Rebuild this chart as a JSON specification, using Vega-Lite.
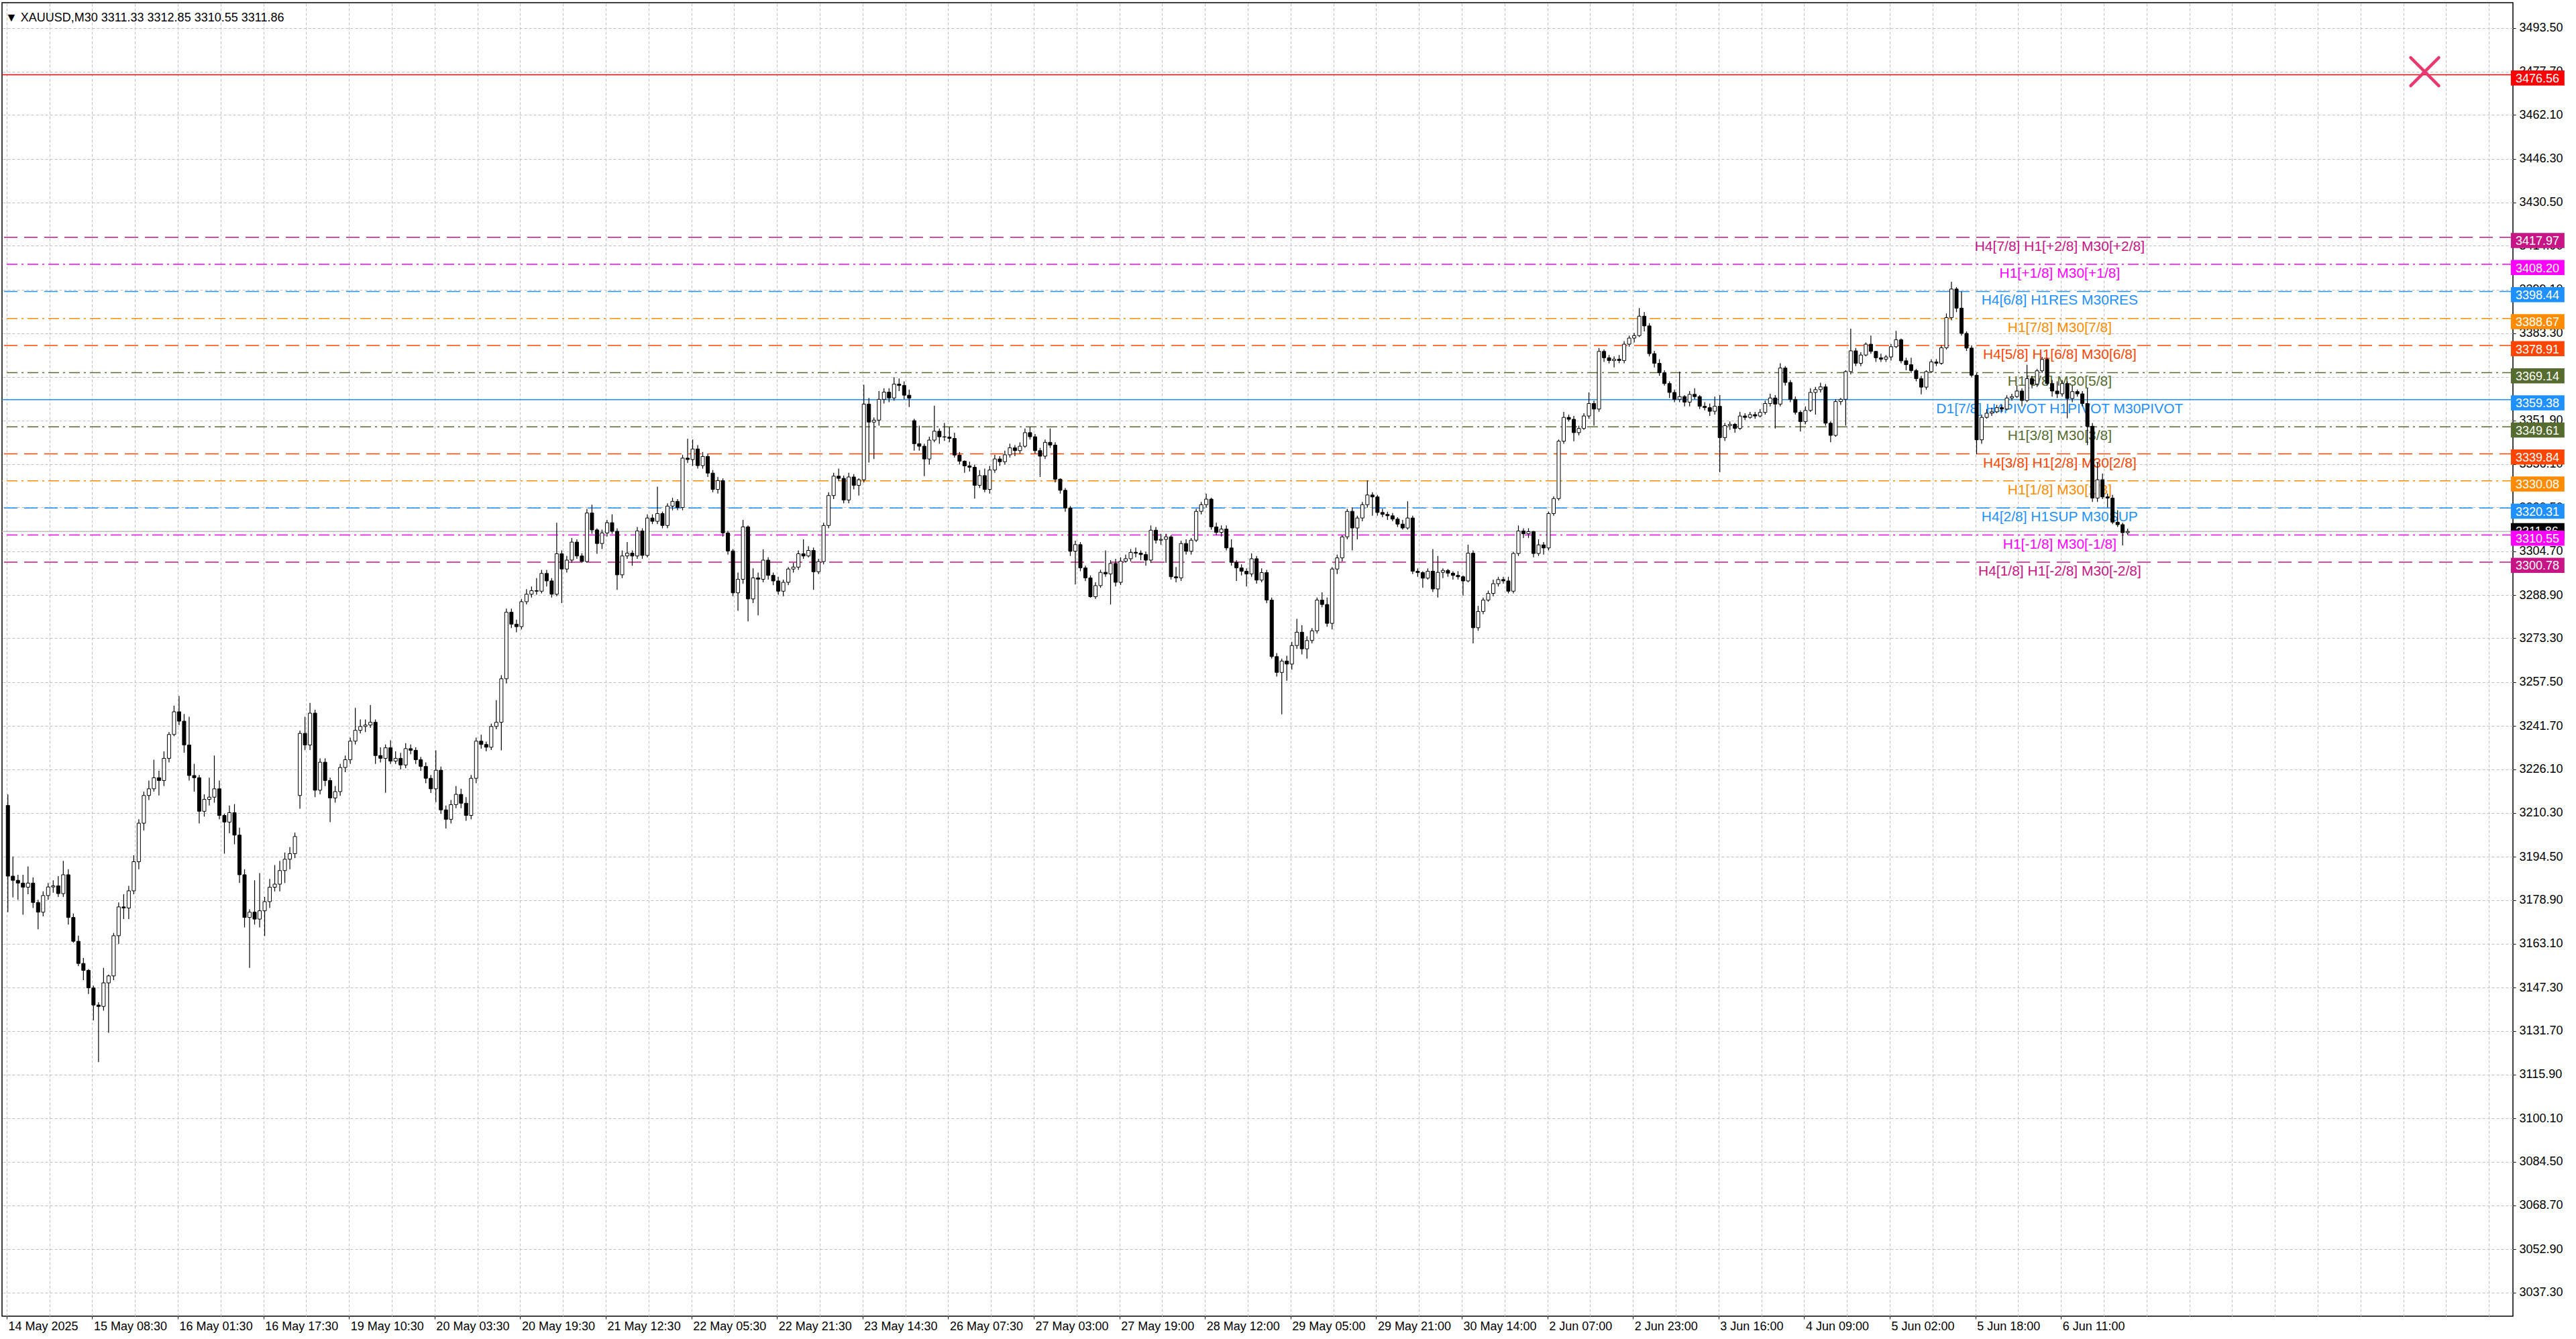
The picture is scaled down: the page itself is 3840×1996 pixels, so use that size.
{
  "$schema": "https://vega.github.io/schema/vega-lite/v6.json",
  "width": 3743,
  "height": 1958,
  "autosize": {"type": "none"},
  "padding": {"left": 3, "top": 4, "right": 94, "bottom": 34},
  "background": "#ffffff",
  "title": {
    "text": "▼ XAUUSD,M30  3311.33 3312.85 3310.55 3311.86",
    "orient": "top",
    "anchor": "start",
    "frame": "group",
    "offset": -26,
    "dx": 5,
    "dy": 20,
    "baseline": "alphabetic",
    "font": "Liberation Sans",
    "fontSize": 18,
    "fontWeight": "normal",
    "color": "#000000"
  },
  "datasets": {
    "levels": [
      {"price": 3476.56, "name": "alert"},
      {"price": 3417.97, "name": "H4[7/8] H1[+2/8] M30[+2/8]"},
      {"price": 3408.20, "name": "H1[+1/8] M30[+1/8]"},
      {"price": 3398.44, "name": "H4[6/8] H1RES M30RES"},
      {"price": 3388.67, "name": "H1[7/8] M30[7/8]"},
      {"price": 3378.91, "name": "H4[5/8] H1[6/8] M30[6/8]"},
      {"price": 3369.14, "name": "H1[5/8] M30[5/8]"},
      {"price": 3359.38, "name": "D1[7/8] H4PIVOT H1PIVOT M30PIVOT"},
      {"price": 3349.61, "name": "H1[3/8] M30[3/8]"},
      {"price": 3339.84, "name": "H4[3/8] H1[2/8] M30[2/8]"},
      {"price": 3330.08, "name": "H1[1/8] M30[1/8]"},
      {"price": 3320.31, "name": "H4[2/8] H1SUP M30SUP"},
      {"price": 3311.86, "name": "bid"},
      {"price": 3310.55, "name": "H1[-1/8] M30[-1/8]"},
      {"price": 3300.78, "name": "H4[1/8] H1[-2/8] M30[-2/8]"}
    ],
    "objects": [
      {"name": "close", "t": 480, "price": 3477.7}
    ],
    "candles": [
      {"t":0,"o":3213,"h":3217,"l":3174.5,"c":3187.5},
      {"t":1,"o":3187.5,"h":3194.6,"l":3179.8,"c":3186},
      {"t":2,"o":3186,"h":3188,"l":3179,"c":3185},
      {"t":3,"o":3185,"h":3188,"l":3173.6,"c":3183.5},
      {"t":4,"o":3183.5,"h":3191,"l":3181,"c":3185},
      {"t":5,"o":3185,"h":3187,"l":3176,"c":3178},
      {"t":6,"o":3178,"h":3179,"l":3168.3,"c":3174.5},
      {"t":7,"o":3174.5,"h":3182,"l":3173,"c":3180.5},
      {"t":8,"o":3180.5,"h":3185,"l":3179,"c":3183.6},
      {"t":9,"o":3183.6,"h":3186,"l":3181.5,"c":3184},
      {"t":10,"o":3184,"h":3187.5,"l":3180,"c":3181.2},
      {"t":11,"o":3181.2,"h":3193,"l":3180,"c":3188},
      {"t":12,"o":3188,"h":3190,"l":3170,"c":3172.6},
      {"t":13,"o":3172.6,"h":3174,"l":3163.5,"c":3164},
      {"t":14,"o":3164,"h":3166,"l":3155,"c":3156},
      {"t":15,"o":3156,"h":3158,"l":3150,"c":3153.5},
      {"t":16,"o":3153.5,"h":3154,"l":3145,"c":3147.2},
      {"t":17,"o":3147.2,"h":3148,"l":3135.5,"c":3141},
      {"t":18,"o":3141,"h":3142,"l":3120.4,"c":3140.5},
      {"t":19,"o":3140.5,"h":3154.4,"l":3139,"c":3149},
      {"t":20,"o":3149,"h":3152,"l":3131,"c":3151.5},
      {"t":21,"o":3151.5,"h":3167,"l":3150,"c":3166},
      {"t":22,"o":3166,"h":3178,"l":3163,"c":3176.4},
      {"t":23,"o":3176.4,"h":3181,"l":3172,"c":3176},
      {"t":24,"o":3176,"h":3184,"l":3172,"c":3182.2},
      {"t":25,"o":3182.2,"h":3195,"l":3181,"c":3192.7},
      {"t":26,"o":3192.7,"h":3208,"l":3190,"c":3206.6},
      {"t":27,"o":3206.6,"h":3218,"l":3204,"c":3216.6},
      {"t":28,"o":3216.6,"h":3222,"l":3215,"c":3219},
      {"t":29,"o":3219,"h":3229.5,"l":3218,"c":3223},
      {"t":30,"o":3223,"h":3225.5,"l":3216.6,"c":3222},
      {"t":31,"o":3222,"h":3232.5,"l":3220,"c":3230},
      {"t":32,"o":3230,"h":3239.5,"l":3228.5,"c":3238.6},
      {"t":33,"o":3238.6,"h":3249,"l":3238,"c":3246.8},
      {"t":34,"o":3246.8,"h":3252.5,"l":3242,"c":3243.4},
      {"t":35,"o":3243.4,"h":3246,"l":3232,"c":3234.8},
      {"t":36,"o":3234.8,"h":3245,"l":3222,"c":3223.8},
      {"t":37,"o":3223.8,"h":3228,"l":3218,"c":3223},
      {"t":38,"o":3223,"h":3224,"l":3206.5,"c":3210.9},
      {"t":39,"o":3210.9,"h":3217,"l":3209,"c":3215.2},
      {"t":40,"o":3215.2,"h":3223,"l":3213,"c":3216},
      {"t":41,"o":3216,"h":3231,"l":3214,"c":3219},
      {"t":42,"o":3219,"h":3222,"l":3208,"c":3209.4},
      {"t":43,"o":3209.4,"h":3210,"l":3195.6,"c":3207},
      {"t":44,"o":3207,"h":3213,"l":3203,"c":3210.4},
      {"t":45,"o":3210.4,"h":3213.5,"l":3199,"c":3202.3},
      {"t":46,"o":3202.3,"h":3205,"l":3185,"c":3188},
      {"t":47,"o":3188,"h":3190,"l":3169,"c":3172.6},
      {"t":48,"o":3172.6,"h":3175.5,"l":3154.4,"c":3174.5},
      {"t":49,"o":3174.5,"h":3186,"l":3170,"c":3172},
      {"t":50,"o":3172,"h":3188.6,"l":3169,"c":3175},
      {"t":51,"o":3175,"h":3180,"l":3165.9,"c":3178.3},
      {"t":52,"o":3178.3,"h":3186.5,"l":3176,"c":3183.5},
      {"t":53,"o":3183.5,"h":3191.5,"l":3182,"c":3184.6},
      {"t":54,"o":3184.6,"h":3193,"l":3182,"c":3189.5},
      {"t":55,"o":3189.5,"h":3196,"l":3185,"c":3193.6},
      {"t":56,"o":3193.6,"h":3198,"l":3190,"c":3195.6},
      {"t":57,"o":3195.6,"h":3203.2,"l":3194,"c":3201.8},
      {"t":58,"o":3216.6,"h":3240,"l":3211.8,"c":3239},
      {"t":59,"o":3239,"h":3245,"l":3233,"c":3234.8},
      {"t":60,"o":3234.8,"h":3250,"l":3233,"c":3246.3},
      {"t":61,"o":3246.3,"h":3247.5,"l":3216,"c":3218.5},
      {"t":62,"o":3218.5,"h":3230,"l":3217,"c":3228.6},
      {"t":63,"o":3228.6,"h":3230,"l":3220,"c":3222},
      {"t":64,"o":3222,"h":3223,"l":3207,"c":3215.7},
      {"t":65,"o":3215.7,"h":3220,"l":3214,"c":3218},
      {"t":66,"o":3218,"h":3228,"l":3216.5,"c":3226.7},
      {"t":67,"o":3226.7,"h":3231,"l":3225,"c":3229.5},
      {"t":68,"o":3229.5,"h":3237.5,"l":3228,"c":3236.2},
      {"t":69,"o":3236.2,"h":3248.2,"l":3235,"c":3240.1},
      {"t":70,"o":3240.1,"h":3244,"l":3239,"c":3241.5},
      {"t":71,"o":3241.5,"h":3244,"l":3239.5,"c":3242},
      {"t":72,"o":3242,"h":3249.2,"l":3241,"c":3243},
      {"t":73,"o":3243,"h":3244,"l":3228,"c":3231},
      {"t":74,"o":3231,"h":3234,"l":3228.5,"c":3230},
      {"t":75,"o":3230,"h":3235,"l":3217.6,"c":3233.8},
      {"t":76,"o":3233.8,"h":3236.5,"l":3228,"c":3229},
      {"t":77,"o":3229,"h":3232.5,"l":3228,"c":3230},
      {"t":78,"o":3230,"h":3232,"l":3226,"c":3227.6},
      {"t":79,"o":3227.6,"h":3235.5,"l":3226.5,"c":3233.5},
      {"t":80,"o":3233.5,"h":3235,"l":3231.5,"c":3232.9},
      {"t":81,"o":3232.9,"h":3234,"l":3228,"c":3229.5},
      {"t":82,"o":3229.5,"h":3230.5,"l":3225.5,"c":3227.1},
      {"t":83,"o":3227.1,"h":3228.5,"l":3221,"c":3222.8},
      {"t":84,"o":3222.8,"h":3224,"l":3217.5,"c":3219},
      {"t":85,"o":3219,"h":3232.9,"l":3214.2,"c":3225.7},
      {"t":86,"o":3225.7,"h":3227,"l":3210,"c":3211.4},
      {"t":87,"o":3211.4,"h":3213,"l":3204.7,"c":3208},
      {"t":88,"o":3208,"h":3215,"l":3206.5,"c":3213.3},
      {"t":89,"o":3213.3,"h":3220,"l":3212,"c":3217},
      {"t":90,"o":3217,"h":3219,"l":3212,"c":3213.8},
      {"t":91,"o":3213.8,"h":3216,"l":3207.5,"c":3209.4},
      {"t":92,"o":3209.4,"h":3224,"l":3208,"c":3222.8},
      {"t":93,"o":3222.8,"h":3237.5,"l":3221,"c":3236.2},
      {"t":94,"o":3236.2,"h":3238.5,"l":3233.5,"c":3235},
      {"t":95,"o":3235,"h":3236,"l":3232.5,"c":3234},
      {"t":96,"o":3234,"h":3242.5,"l":3233,"c":3241.5},
      {"t":97,"o":3241.5,"h":3251,"l":3240.5,"c":3243},
      {"t":98,"o":3243,"h":3260,"l":3232.9,"c":3258.7},
      {"t":99,"o":3258.7,"h":3284,"l":3257,"c":3282.7},
      {"t":100,"o":3282.7,"h":3284,"l":3277,"c":3278.4},
      {"t":101,"o":3278.4,"h":3280,"l":3275.5,"c":3277.5},
      {"t":102,"o":3277.5,"h":3287.5,"l":3276.5,"c":3286.5},
      {"t":103,"o":3286.5,"h":3291,"l":3285.5,"c":3289.2},
      {"t":104,"o":3289.2,"h":3292,"l":3288,"c":3290.5},
      {"t":105,"o":3290.5,"h":3295,"l":3289,"c":3290.3},
      {"t":106,"o":3290.3,"h":3298,"l":3289.5,"c":3296.7},
      {"t":107,"o":3296.7,"h":3298,"l":3292,"c":3294},
      {"t":108,"o":3294,"h":3295,"l":3288,"c":3289.2},
      {"t":109,"o":3289.2,"h":3315,"l":3288.5,"c":3303.8},
      {"t":110,"o":3303.8,"h":3305,"l":3286,"c":3298.3},
      {"t":111,"o":3298.3,"h":3303,"l":3297,"c":3301.5},
      {"t":112,"o":3301.5,"h":3309.5,"l":3300.5,"c":3308},
      {"t":113,"o":3308,"h":3309,"l":3302,"c":3303},
      {"t":114,"o":3303,"h":3304,"l":3300.5,"c":3301},
      {"t":115,"o":3301,"h":3320,"l":3300.5,"c":3318.5},
      {"t":116,"o":3318.5,"h":3321.5,"l":3311,"c":3312.4},
      {"t":117,"o":3312.4,"h":3313,"l":3303.8,"c":3307.5},
      {"t":118,"o":3307.5,"h":3312.5,"l":3305.5,"c":3311.3},
      {"t":119,"o":3311.3,"h":3316,"l":3310,"c":3315},
      {"t":120,"o":3315,"h":3318,"l":3311,"c":3311.9},
      {"t":121,"o":3311.9,"h":3313,"l":3290.8,"c":3296.2},
      {"t":122,"o":3296.2,"h":3305,"l":3295,"c":3303},
      {"t":123,"o":3303,"h":3308,"l":3302,"c":3304},
      {"t":124,"o":3304,"h":3305,"l":3299.5,"c":3303},
      {"t":125,"o":3303,"h":3313.5,"l":3302,"c":3312},
      {"t":126,"o":3312,"h":3313,"l":3302,"c":3303.2},
      {"t":127,"o":3303.2,"h":3318,"l":3302.5,"c":3316.7},
      {"t":128,"o":3316.7,"h":3318,"l":3314.5,"c":3315.5},
      {"t":129,"o":3315.5,"h":3328,"l":3314.5,"c":3318.3},
      {"t":130,"o":3318.3,"h":3319,"l":3313,"c":3314},
      {"t":131,"o":3314,"h":3322,"l":3313,"c":3321},
      {"t":132,"o":3321,"h":3324,"l":3319.5,"c":3322.7},
      {"t":133,"o":3322.7,"h":3323.5,"l":3319.5,"c":3320.5},
      {"t":134,"o":3320.5,"h":3339.5,"l":3319.5,"c":3338.3},
      {"t":135,"o":3338.3,"h":3345.3,"l":3336.5,"c":3337.8},
      {"t":136,"o":3337.8,"h":3345,"l":3335.5,"c":3341.6},
      {"t":137,"o":3341.6,"h":3343,"l":3334.5,"c":3335.6},
      {"t":138,"o":3335.6,"h":3340.5,"l":3334.5,"c":3338.9},
      {"t":139,"o":3338.9,"h":3340,"l":3331.5,"c":3332.9},
      {"t":140,"o":3332.9,"h":3334,"l":3326,"c":3327},
      {"t":141,"o":3327,"h":3331.5,"l":3325.5,"c":3330.2},
      {"t":142,"o":3330.2,"h":3331,"l":3310,"c":3311.3},
      {"t":143,"o":3311.3,"h":3312,"l":3303.5,"c":3304.8},
      {"t":144,"o":3304.8,"h":3305.5,"l":3288.5,"c":3289.7},
      {"t":145,"o":3289.7,"h":3297,"l":3283.2,"c":3294.6},
      {"t":146,"o":3294.6,"h":3316,"l":3293,"c":3313.5},
      {"t":147,"o":3313.5,"h":3314,"l":3279.4,"c":3287.5},
      {"t":148,"o":3287.5,"h":3298.5,"l":3286,"c":3295.1},
      {"t":149,"o":3295.1,"h":3297,"l":3281.6,"c":3294.6},
      {"t":150,"o":3294.6,"h":3305.4,"l":3293.5,"c":3301.5},
      {"t":151,"o":3301.5,"h":3302.5,"l":3294.5,"c":3296},
      {"t":152,"o":3296,"h":3297,"l":3292.5,"c":3294},
      {"t":153,"o":3294,"h":3295.5,"l":3289,"c":3290.3},
      {"t":154,"o":3290.3,"h":3294.5,"l":3288.5,"c":3293.5},
      {"t":155,"o":3293.5,"h":3299,"l":3292.5,"c":3298.3},
      {"t":156,"o":3298.3,"h":3300.5,"l":3297,"c":3299},
      {"t":157,"o":3299,"h":3305,"l":3298,"c":3303.8},
      {"t":158,"o":3303.8,"h":3309,"l":3302,"c":3303},
      {"t":159,"o":3303,"h":3306.5,"l":3302.5,"c":3305},
      {"t":160,"o":3305,"h":3306,"l":3290.8,"c":3297.3},
      {"t":161,"o":3297.3,"h":3302,"l":3296.5,"c":3301},
      {"t":162,"o":3301,"h":3315,"l":3300,"c":3314},
      {"t":163,"o":3314,"h":3326,"l":3313,"c":3324.8},
      {"t":164,"o":3324.8,"h":3333,"l":3323.5,"c":3331.8},
      {"t":165,"o":3331.8,"h":3334.5,"l":3330,"c":3331},
      {"t":166,"o":3331,"h":3332,"l":3322,"c":3323.2},
      {"t":167,"o":3323.2,"h":3333,"l":3322,"c":3331.5},
      {"t":168,"o":3331.5,"h":3332.5,"l":3327,"c":3328.5},
      {"t":169,"o":3328.5,"h":3331,"l":3324.8,"c":3330.5},
      {"t":170,"o":3330.5,"h":3364.8,"l":3329.5,"c":3357.8},
      {"t":171,"o":3357.8,"h":3360,"l":3336.7,"c":3351.3},
      {"t":172,"o":3351.3,"h":3353,"l":3338,"c":3352},
      {"t":173,"o":3352,"h":3362.5,"l":3350,"c":3359.5},
      {"t":174,"o":3359.5,"h":3363.5,"l":3358,"c":3362.1},
      {"t":175,"o":3362.1,"h":3363.5,"l":3358.5,"c":3360},
      {"t":176,"o":3360,"h":3367.5,"l":3359,"c":3365},
      {"t":177,"o":3365,"h":3367,"l":3362.5,"c":3364.5},
      {"t":178,"o":3364.5,"h":3366,"l":3359.5,"c":3361},
      {"t":179,"o":3361,"h":3363,"l":3356.7,"c":3359.9},
      {"t":180,"o":3351.8,"h":3352.5,"l":3341,"c":3343.5},
      {"t":181,"o":3343.5,"h":3350,"l":3341,"c":3342.6},
      {"t":182,"o":3342.6,"h":3343.5,"l":3331.8,"c":3338},
      {"t":183,"o":3338,"h":3346,"l":3336,"c":3344.8},
      {"t":184,"o":3344.8,"h":3357.2,"l":3344,"c":3348},
      {"t":185,"o":3348,"h":3349,"l":3343.5,"c":3346},
      {"t":186,"o":3346,"h":3351,"l":3344.5,"c":3345.9},
      {"t":187,"o":3345.9,"h":3349.5,"l":3344,"c":3345.4},
      {"t":188,"o":3345.4,"h":3347.5,"l":3338.5,"c":3339.4},
      {"t":189,"o":3339.4,"h":3340.5,"l":3336,"c":3337.2},
      {"t":190,"o":3337.2,"h":3337.5,"l":3333,"c":3335.5},
      {"t":191,"o":3335.5,"h":3337,"l":3333.5,"c":3335},
      {"t":192,"o":3335,"h":3336,"l":3323.7,"c":3328.5},
      {"t":193,"o":3328.5,"h":3334,"l":3327.5,"c":3332},
      {"t":194,"o":3332,"h":3334.5,"l":3326,"c":3327},
      {"t":195,"o":3327,"h":3335.5,"l":3325.5,"c":3334},
      {"t":196,"o":3334,"h":3339.5,"l":3333,"c":3338},
      {"t":197,"o":3338,"h":3339,"l":3335.5,"c":3337},
      {"t":198,"o":3337,"h":3341,"l":3336,"c":3339.5},
      {"t":199,"o":3339.5,"h":3343.5,"l":3338.5,"c":3342},
      {"t":200,"o":3342,"h":3343,"l":3339,"c":3341},
      {"t":201,"o":3341,"h":3344,"l":3340,"c":3342.6},
      {"t":202,"o":3342.6,"h":3349,"l":3342,"c":3347.5},
      {"t":203,"o":3347.5,"h":3349.5,"l":3345,"c":3346},
      {"t":204,"o":3346,"h":3347,"l":3340,"c":3341},
      {"t":205,"o":3341,"h":3342,"l":3331.5,"c":3339},
      {"t":206,"o":3339,"h":3345,"l":3338,"c":3344},
      {"t":207,"o":3344,"h":3349,"l":3342,"c":3343},
      {"t":208,"o":3343,"h":3344,"l":3329.5,"c":3330.7},
      {"t":209,"o":3330.7,"h":3331,"l":3325.5,"c":3326.7},
      {"t":210,"o":3326.7,"h":3327.5,"l":3319,"c":3320.3},
      {"t":211,"o":3320.3,"h":3321,"l":3303,"c":3304.7},
      {"t":212,"o":3304.7,"h":3308.5,"l":3292.7,"c":3307.1},
      {"t":213,"o":3307.1,"h":3308,"l":3297.5,"c":3298.7},
      {"t":214,"o":3298.7,"h":3299.5,"l":3294,"c":3295.1},
      {"t":215,"o":3295.1,"h":3296,"l":3287.9,"c":3288.3},
      {"t":216,"o":3288.3,"h":3293.5,"l":3287.5,"c":3292.3},
      {"t":217,"o":3292.3,"h":3298,"l":3291.5,"c":3297.1},
      {"t":218,"o":3297.1,"h":3305,"l":3295.5,"c":3296.5},
      {"t":219,"o":3296.5,"h":3301.5,"l":3285.5,"c":3300.3},
      {"t":220,"o":3300.3,"h":3302,"l":3292,"c":3293.5},
      {"t":221,"o":3293.5,"h":3302.5,"l":3292.5,"c":3301.1},
      {"t":222,"o":3301.1,"h":3303.5,"l":3300.5,"c":3302},
      {"t":223,"o":3302,"h":3305.5,"l":3301,"c":3304.3},
      {"t":224,"o":3304.3,"h":3306,"l":3302.5,"c":3304},
      {"t":225,"o":3304,"h":3305,"l":3301.5,"c":3303.5},
      {"t":226,"o":3303.5,"h":3304.5,"l":3299.5,"c":3301.5},
      {"t":227,"o":3301.5,"h":3314,"l":3300.5,"c":3312.3},
      {"t":228,"o":3312.3,"h":3313.5,"l":3307.5,"c":3308.7},
      {"t":229,"o":3308.7,"h":3311,"l":3307,"c":3309},
      {"t":230,"o":3309,"h":3311,"l":3300.5,"c":3309.9},
      {"t":231,"o":3309.9,"h":3310.5,"l":3294.5,"c":3295.5},
      {"t":232,"o":3295.5,"h":3299,"l":3293.5,"c":3295.1},
      {"t":233,"o":3295.1,"h":3308.5,"l":3294,"c":3307.5},
      {"t":234,"o":3307.5,"h":3309,"l":3303.5,"c":3304.7},
      {"t":235,"o":3304.7,"h":3309.5,"l":3303.5,"c":3308.7},
      {"t":236,"o":3308.7,"h":3320,"l":3308,"c":3319.1},
      {"t":237,"o":3319.1,"h":3322.5,"l":3318,"c":3321.5},
      {"t":238,"o":3321.5,"h":3325.5,"l":3320.5,"c":3323.5},
      {"t":239,"o":3323.5,"h":3324,"l":3312.5,"c":3313.5},
      {"t":240,"o":3313.5,"h":3315,"l":3310.5,"c":3311.5},
      {"t":241,"o":3311.5,"h":3314,"l":3310,"c":3312.7},
      {"t":242,"o":3312.7,"h":3314,"l":3305,"c":3305.9},
      {"t":243,"o":3305.9,"h":3309,"l":3299.5,"c":3300.7},
      {"t":244,"o":3300.7,"h":3301.5,"l":3294,"c":3298.7},
      {"t":245,"o":3298.7,"h":3300,"l":3296,"c":3297.5},
      {"t":246,"o":3297.5,"h":3298.5,"l":3292,"c":3296.5},
      {"t":247,"o":3296.5,"h":3304,"l":3295.5,"c":3302},
      {"t":248,"o":3302,"h":3303,"l":3293,"c":3294.3},
      {"t":249,"o":3294.3,"h":3298.5,"l":3293.5,"c":3297},
      {"t":250,"o":3297,"h":3298,"l":3286,"c":3287.1},
      {"t":251,"o":3287.1,"h":3288,"l":3266,"c":3266.7},
      {"t":252,"o":3266.7,"h":3268,"l":3259.5,"c":3261},
      {"t":253,"o":3261,"h":3266,"l":3245.9,"c":3265.1},
      {"t":254,"o":3265.1,"h":3267,"l":3258,"c":3264},
      {"t":255,"o":3264,"h":3272,"l":3262,"c":3270.7},
      {"t":256,"o":3270.7,"h":3280.3,"l":3269.5,"c":3275.5},
      {"t":257,"o":3275.5,"h":3278,"l":3267.5,"c":3269.5},
      {"t":258,"o":3269.5,"h":3274,"l":3266,"c":3272.5},
      {"t":259,"o":3272.5,"h":3277,"l":3271.5,"c":3276},
      {"t":260,"o":3276,"h":3288,"l":3275,"c":3287.1},
      {"t":261,"o":3287.1,"h":3289.9,"l":3284.5,"c":3285.5},
      {"t":262,"o":3285.5,"h":3288,"l":3277.5,"c":3278.7},
      {"t":263,"o":3278.7,"h":3299,"l":3276.5,"c":3298.3},
      {"t":264,"o":3298.3,"h":3303.5,"l":3296.5,"c":3302.3},
      {"t":265,"o":3302.3,"h":3310.5,"l":3301,"c":3309.9},
      {"t":266,"o":3309.9,"h":3320,"l":3309,"c":3319.1},
      {"t":267,"o":3319.1,"h":3320.5,"l":3305,"c":3313.1},
      {"t":268,"o":3313.1,"h":3317.5,"l":3309,"c":3316.7},
      {"t":269,"o":3316.7,"h":3322.5,"l":3315.5,"c":3321.5},
      {"t":270,"o":3321.5,"h":3330.3,"l":3320.5,"c":3325},
      {"t":271,"o":3325,"h":3326,"l":3317.5,"c":3324.3},
      {"t":272,"o":3324.3,"h":3325,"l":3317.5,"c":3318.7},
      {"t":273,"o":3318.7,"h":3320,"l":3317,"c":3318},
      {"t":274,"o":3318,"h":3319,"l":3316,"c":3317.5},
      {"t":275,"o":3317.5,"h":3318.5,"l":3315.5,"c":3316.3},
      {"t":276,"o":3316.3,"h":3317,"l":3313.5,"c":3314.5},
      {"t":277,"o":3314.5,"h":3316,"l":3312.5,"c":3313.1},
      {"t":278,"o":3313.1,"h":3322.7,"l":3312.5,"c":3316.7},
      {"t":279,"o":3316.7,"h":3317.5,"l":3296.5,"c":3297.5},
      {"t":280,"o":3297.5,"h":3298.5,"l":3295.5,"c":3297},
      {"t":281,"o":3297,"h":3297.5,"l":3291.5,"c":3295},
      {"t":282,"o":3295,"h":3298.5,"l":3294.5,"c":3297.5},
      {"t":283,"o":3297.5,"h":3305.5,"l":3290,"c":3291.1},
      {"t":284,"o":3291.1,"h":3303,"l":3288,"c":3297.1},
      {"t":285,"o":3297.1,"h":3298.5,"l":3295,"c":3297.8},
      {"t":286,"o":3297.8,"h":3298.3,"l":3295.5,"c":3296.8},
      {"t":287,"o":3296.8,"h":3297.5,"l":3294.5,"c":3296},
      {"t":288,"o":3296,"h":3297.5,"l":3294.5,"c":3295.5},
      {"t":289,"o":3295.5,"h":3296,"l":3288.7,"c":3294},
      {"t":290,"o":3294,"h":3307.1,"l":3293.5,"c":3304},
      {"t":291,"o":3304,"h":3305,"l":3271.5,"c":3277.1},
      {"t":292,"o":3277.1,"h":3285,"l":3276,"c":3283},
      {"t":293,"o":3283,"h":3288,"l":3282,"c":3287.1},
      {"t":294,"o":3287.1,"h":3290.5,"l":3286.5,"c":3289.5},
      {"t":295,"o":3289.5,"h":3294.5,"l":3288.5,"c":3293},
      {"t":296,"o":3293,"h":3295.5,"l":3292,"c":3294.5},
      {"t":297,"o":3294.5,"h":3295.5,"l":3293,"c":3294},
      {"t":298,"o":3294,"h":3295.5,"l":3289.5,"c":3290.3},
      {"t":299,"o":3290.3,"h":3304.5,"l":3289.5,"c":3303.9},
      {"t":300,"o":3303.9,"h":3314,"l":3303,"c":3312},
      {"t":301,"o":3312,"h":3313,"l":3309.5,"c":3311},
      {"t":302,"o":3311,"h":3313,"l":3309.5,"c":3311.8},
      {"t":303,"o":3311.8,"h":3312,"l":3302.5,"c":3303.9},
      {"t":304,"o":3303.9,"h":3309,"l":3303,"c":3307},
      {"t":305,"o":3307,"h":3308,"l":3303.5,"c":3305.9},
      {"t":306,"o":3305.9,"h":3319,"l":3305,"c":3318.3},
      {"t":307,"o":3318.3,"h":3324.5,"l":3317.5,"c":3323.7},
      {"t":308,"o":3323.7,"h":3345,"l":3323,"c":3344.4},
      {"t":309,"o":3344.4,"h":3355,"l":3343.5,"c":3353},
      {"t":310,"o":3353,"h":3354,"l":3351.5,"c":3352.3},
      {"t":311,"o":3352.3,"h":3353.5,"l":3344.4,"c":3347.5},
      {"t":312,"o":3347.5,"h":3350,"l":3346.5,"c":3349},
      {"t":313,"o":3349,"h":3354.5,"l":3348.5,"c":3353.5},
      {"t":314,"o":3353.5,"h":3362,"l":3352.5,"c":3358},
      {"t":315,"o":3358,"h":3359,"l":3350,"c":3356},
      {"t":316,"o":3356,"h":3378,"l":3355,"c":3376.8},
      {"t":317,"o":3376.8,"h":3377.5,"l":3373,"c":3374.5},
      {"t":318,"o":3374.5,"h":3375.5,"l":3372.5,"c":3373.5},
      {"t":319,"o":3373.5,"h":3375,"l":3371,"c":3374},
      {"t":320,"o":3374,"h":3375.5,"l":3372.5,"c":3373.5},
      {"t":321,"o":3373.5,"h":3380.5,"l":3372.5,"c":3379.4},
      {"t":322,"o":3379.4,"h":3382.5,"l":3378.5,"c":3381.6},
      {"t":323,"o":3381.6,"h":3383.5,"l":3380,"c":3382.5},
      {"t":324,"o":3382.5,"h":3392.4,"l":3382,"c":3389.5},
      {"t":325,"o":3389.5,"h":3391,"l":3384,"c":3386},
      {"t":326,"o":3386,"h":3387,"l":3375,"c":3376},
      {"t":327,"o":3376,"h":3377,"l":3371,"c":3372.5},
      {"t":328,"o":3372.5,"h":3374,"l":3368,"c":3369.1},
      {"t":329,"o":3369.1,"h":3370,"l":3364.5,"c":3365.2},
      {"t":330,"o":3365.2,"h":3366,"l":3360,"c":3362},
      {"t":331,"o":3362,"h":3363,"l":3358.5,"c":3359.5},
      {"t":332,"o":3359.5,"h":3369.5,"l":3358.5,"c":3360.5},
      {"t":333,"o":3360.5,"h":3361,"l":3357,"c":3358.5},
      {"t":334,"o":3358.5,"h":3362.5,"l":3357,"c":3361.3},
      {"t":335,"o":3361.3,"h":3363.5,"l":3359.5,"c":3360.5},
      {"t":336,"o":3360.5,"h":3361,"l":3356,"c":3357},
      {"t":337,"o":3357,"h":3358.5,"l":3355.5,"c":3356.5},
      {"t":338,"o":3356.5,"h":3358,"l":3353.5,"c":3355.2},
      {"t":339,"o":3355.2,"h":3360.5,"l":3354,"c":3357},
      {"t":340,"o":3357,"h":3361,"l":3333.2,"c":3345.7},
      {"t":341,"o":3345.7,"h":3351,"l":3344.5,"c":3350},
      {"t":342,"o":3350,"h":3351.5,"l":3348.5,"c":3350.5},
      {"t":343,"o":3350.5,"h":3351,"l":3347.5,"c":3349},
      {"t":344,"o":3349,"h":3355,"l":3348.5,"c":3353.5},
      {"t":345,"o":3353.5,"h":3354.5,"l":3352,"c":3353},
      {"t":346,"o":3353,"h":3355,"l":3352.5,"c":3354},
      {"t":347,"o":3354,"h":3355,"l":3352.5,"c":3353.5},
      {"t":348,"o":3353.5,"h":3356,"l":3353,"c":3354.8},
      {"t":349,"o":3354.8,"h":3359,"l":3354,"c":3358},
      {"t":350,"o":3358,"h":3361.5,"l":3357,"c":3360},
      {"t":351,"o":3360,"h":3361,"l":3349,"c":3357.8},
      {"t":352,"o":3357.8,"h":3372.5,"l":3357,"c":3370.8},
      {"t":353,"o":3370.8,"h":3371.5,"l":3364.5,"c":3365.6},
      {"t":354,"o":3365.6,"h":3366.5,"l":3358.5,"c":3359.5},
      {"t":355,"o":3359.5,"h":3360.5,"l":3354,"c":3354.8},
      {"t":356,"o":3354.8,"h":3355.5,"l":3347.9,"c":3351.5},
      {"t":357,"o":3351.5,"h":3357,"l":3350.5,"c":3355.5},
      {"t":358,"o":3355.5,"h":3363.5,"l":3355,"c":3362},
      {"t":359,"o":3362,"h":3364,"l":3354,"c":3363},
      {"t":360,"o":3363,"h":3365.5,"l":3362,"c":3364},
      {"t":361,"o":3364,"h":3365,"l":3350,"c":3350.9},
      {"t":362,"o":3350.9,"h":3351.5,"l":3344,"c":3346.5},
      {"t":363,"o":3346.5,"h":3359.5,"l":3346,"c":3358.7},
      {"t":364,"o":3358.7,"h":3360,"l":3357.5,"c":3359.5},
      {"t":365,"o":3359.5,"h":3370,"l":3350,"c":3369.5},
      {"t":366,"o":3369.5,"h":3385,"l":3368.5,"c":3377},
      {"t":367,"o":3377,"h":3378,"l":3371.5,"c":3372.5},
      {"t":368,"o":3372.5,"h":3376.5,"l":3371.5,"c":3375.5},
      {"t":369,"o":3375.5,"h":3380,"l":3375,"c":3379.4},
      {"t":370,"o":3379.4,"h":3382.5,"l":3376,"c":3376.8},
      {"t":371,"o":3376.8,"h":3377,"l":3373,"c":3374.5},
      {"t":372,"o":3374.5,"h":3376,"l":3373,"c":3374},
      {"t":373,"o":3374,"h":3375.5,"l":3373,"c":3374.8},
      {"t":374,"o":3374.8,"h":3379.5,"l":3373.5,"c":3378.5},
      {"t":375,"o":3378.5,"h":3384.2,"l":3378,"c":3381},
      {"t":376,"o":3381,"h":3381.5,"l":3372.5,"c":3373.4},
      {"t":377,"o":3373.4,"h":3374.5,"l":3370,"c":3372},
      {"t":378,"o":3372,"h":3374.5,"l":3369,"c":3369.9},
      {"t":379,"o":3369.9,"h":3370.5,"l":3366,"c":3367},
      {"t":380,"o":3367,"h":3368,"l":3361.3,"c":3363.9},
      {"t":381,"o":3363.9,"h":3370,"l":3363,"c":3369.5},
      {"t":382,"o":3369.5,"h":3374,"l":3369,"c":3373},
      {"t":383,"o":3373,"h":3374,"l":3371.5,"c":3372.5},
      {"t":384,"o":3372.5,"h":3379,"l":3372,"c":3378.1},
      {"t":385,"o":3378.1,"h":3390.5,"l":3377.5,"c":3389},
      {"t":386,"o":3389,"h":3401.9,"l":3388,"c":3399.3},
      {"t":387,"o":3399.3,"h":3400,"l":3391,"c":3392.4},
      {"t":388,"o":3392.4,"h":3398.4,"l":3382.5,"c":3383.3},
      {"t":389,"o":3383.3,"h":3384,"l":3377,"c":3378},
      {"t":390,"o":3378,"h":3379,"l":3367.5,"c":3368.2},
      {"t":391,"o":3368.2,"h":3369,"l":3339.7,"c":3344.9},
      {"t":392,"o":3344.9,"h":3354,"l":3343.5,"c":3353},
      {"t":393,"o":3353,"h":3356,"l":3352.5,"c":3354.5},
      {"t":394,"o":3354.5,"h":3356.5,"l":3353.5,"c":3355},
      {"t":395,"o":3355,"h":3357.5,"l":3354.5,"c":3356.5},
      {"t":396,"o":3356.5,"h":3357.5,"l":3355,"c":3356},
      {"t":397,"o":3356,"h":3361,"l":3355.5,"c":3360},
      {"t":398,"o":3360,"h":3361.5,"l":3359,"c":3360.5},
      {"t":399,"o":3360.5,"h":3364.5,"l":3360,"c":3362.5},
      {"t":400,"o":3362.5,"h":3363.5,"l":3357,"c":3359.1},
      {"t":401,"o":3359.1,"h":3372,"l":3358.5,"c":3367},
      {"t":402,"o":3367,"h":3368,"l":3363.5,"c":3365},
      {"t":403,"o":3365,"h":3370.5,"l":3364,"c":3369.8},
      {"t":404,"o":3369.8,"h":3374.8,"l":3369,"c":3373.9},
      {"t":405,"o":3373.9,"h":3374.5,"l":3364.5,"c":3365.2},
      {"t":406,"o":3365.2,"h":3366.5,"l":3360.5,"c":3362.5},
      {"t":407,"o":3362.5,"h":3366,"l":3360,"c":3361.5},
      {"t":408,"o":3361.5,"h":3366.5,"l":3360.5,"c":3365.2},
      {"t":409,"o":3365.2,"h":3366,"l":3352.7,"c":3359.8},
      {"t":410,"o":3359.8,"h":3364.5,"l":3358.5,"c":3362.3},
      {"t":411,"o":3362.3,"h":3363,"l":3360.5,"c":3361.5},
      {"t":412,"o":3361.5,"h":3362.5,"l":3357,"c":3358},
      {"t":413,"o":3358,"h":3363.5,"l":3343,"c":3349.8},
      {"t":414,"o":3349.8,"h":3351,"l":3322.5,"c":3323.9},
      {"t":415,"o":3323.9,"h":3336.9,"l":3322.5,"c":3330.5},
      {"t":416,"o":3330.5,"h":3332.7,"l":3323.5,"c":3324.3},
      {"t":417,"o":3324.3,"h":3325.5,"l":3320.5,"c":3323.9},
      {"t":418,"o":3323.9,"h":3325,"l":3314.5,"c":3315.2},
      {"t":419,"o":3315.2,"h":3319.5,"l":3313.5,"c":3314.3},
      {"t":420,"o":3314.3,"h":3315,"l":3306.8,"c":3311.4},
      {"t":421,"o":3311.4,"h":3312.85,"l":3310.55,"c":3311.86}
    ]
  },
  "resolve": {"axis": {"x": "independent", "y": "independent"}},
  "layer": [
    {
      "data": {"name": "levels"},
      "mark": {"type": "rule", "strokeWidth": 1.5},
      "encoding": {
        "y": {"field": "price", "type": "quantitative", "scale": {"domain": [3028.75, 3502.6], "nice": false, "zero": false}, "axis": null},
        "color": {
          "field": "name", "type": "nominal", "legend": null,
          "scale": {
            "domain": ["alert", "H4[7/8] H1[+2/8] M30[+2/8]", "H1[+1/8] M30[+1/8]", "H4[6/8] H1RES M30RES", "H1[7/8] M30[7/8]", "H4[5/8] H1[6/8] M30[6/8]", "H1[5/8] M30[5/8]", "D1[7/8] H4PIVOT H1PIVOT M30PIVOT", "H1[3/8] M30[3/8]", "H4[3/8] H1[2/8] M30[2/8]", "H1[1/8] M30[1/8]", "H4[2/8] H1SUP M30SUP", "bid", "H1[-1/8] M30[-1/8]", "H4[1/8] H1[-2/8] M30[-2/8]"],
            "range": ["#FF0000", "#C71585", "#FF00FF", "#1E90FF", "#FF8C00", "#FF4500", "#556B2F", "#1E90FF", "#556B2F", "#FF4500", "#FF8C00", "#1E90FF", "#C0C0C0", "#FF00FF", "#C71585"]
          }
        },
        "strokeDash": {
          "field": "name", "type": "nominal", "legend": null,
          "scale": {
            "domain": ["alert", "H4[7/8] H1[+2/8] M30[+2/8]", "H1[+1/8] M30[+1/8]", "H4[6/8] H1RES M30RES", "H1[7/8] M30[7/8]", "H4[5/8] H1[6/8] M30[6/8]", "H1[5/8] M30[5/8]", "D1[7/8] H4PIVOT H1PIVOT M30PIVOT", "H1[3/8] M30[3/8]", "H4[3/8] H1[2/8] M30[2/8]", "H1[1/8] M30[1/8]", "H4[2/8] H1SUP M30SUP", "bid", "H1[-1/8] M30[-1/8]", "H4[1/8] H1[-2/8] M30[-2/8]"],
            "range": [[1, 0], [20, 10], [16, 6, 3, 6], [20, 10], [16, 6, 3, 6], [20, 10], [16, 6, 3, 6], [1, 0], [16, 6, 3, 6], [20, 10], [16, 6, 3, 6], [20, 10], [1, 0], [16, 6, 3, 6], [20, 10]]
          }
        }
      }
    },
    {
      "data": {"name": "levels"},
      "transform": [{"filter": "datum.name !== 'alert' && datum.name !== 'bid'"}],
      "mark": {"type": "text", "font": "Liberation Sans", "fontSize": 21, "align": "center", "baseline": "alphabetic", "dy": 20},
      "encoding": {
        "x": {"datum": 407.5, "type": "quantitative", "scale": {"domain": [-0.5, 496.85], "nice": false, "zero": false}, "axis": null},
        "y": {"field": "price", "type": "quantitative", "scale": {"domain": [3028.75, 3502.6], "nice": false, "zero": false}, "axis": null},
        "text": {"field": "name", "type": "nominal"},
        "color": {"field": "name", "type": "nominal", "legend": null}
      }
    },
    {
      "data": {"name": "candles"},
      "mark": {"type": "rule", "color": "#000000", "strokeWidth": 1.2},
      "encoding": {
        "x": {
          "field": "t", "type": "quantitative",
          "scale": {"domain": [-0.5, 496.85], "nice": false, "zero": false},
          "axis": {
            "orient": "top", "title": null, "grid": true, "gridColor": "#C0C0C0", "gridDash": [4, 3], "gridWidth": 1,
            "labels": false, "ticks": false, "domain": false,
            "values": [-0.25, 8.25, 16.75, 25.25, 33.75, 42.25, 50.75, 59.25, 67.75, 76.25, 84.75, 93.25, 101.75, 110.25, 118.75, 127.25, 135.75, 144.25, 152.75, 161.25, 169.75, 178.25, 186.75, 195.25, 203.75, 212.25, 220.75, 229.25, 237.75, 246.25, 254.75, 263.25, 271.75, 280.25, 288.75, 297.25, 305.75, 314.25, 322.75, 331.25, 339.75, 348.25, 356.75, 365.25, 373.75, 382.25, 390.75, 399.25, 407.75, 416.25, 424.75, 433.25, 441.75, 450.25, 458.75, 467.25, 475.75, 484.25, 492.75]
          }
        },
        "y": {
          "field": "l", "type": "quantitative",
          "scale": {"domain": [3028.75, 3502.6], "nice": false, "zero": false},
          "axis": {
            "orient": "right", "title": null, "format": ".2f",
            "values": [3493.5, 3477.7, 3462.1, 3446.3, 3430.5, 3414.9, 3399.1, 3383.3, 3367.5, 3351.9, 3336.1, 3320.5, 3304.7, 3288.9, 3273.3, 3257.5, 3241.7, 3226.1, 3210.3, 3194.5, 3178.9, 3163.1, 3147.3, 3131.7, 3115.9, 3100.1, 3084.5, 3068.7, 3052.9, 3037.3],
            "grid": true, "gridColor": "#C0C0C0", "gridDash": [4, 3], "gridWidth": 1,
            "domain": false, "ticks": true, "tickSize": 4, "tickColor": "#000000",
            "labelFont": "Liberation Sans", "labelFontSize": 18, "labelColor": "#000000",
            "labelPadding": 5, "labelAlign": "left", "labelBaseline": "middle",
            "labelOverlap": false, "labelFlush": false, "labelBound": false
          }
        },
        "y2": {"field": "h"}
      }
    },
    {
      "data": {"name": "candles"},
      "mark": {"type": "bar", "width": 5, "stroke": "#000000", "strokeWidth": 1},
      "encoding": {
        "x": {
          "field": "t", "type": "quantitative",
          "scale": {"domain": [-0.5, 496.85], "nice": false, "zero": false},
          "axis": {
            "orient": "bottom", "title": null, "grid": false, "domain": false,
            "values": [-0.25, 16.75, 33.75, 50.75, 67.75, 84.75, 101.75, 118.75, 135.75, 152.75, 169.75, 186.75, 203.75, 220.75, 237.75, 254.75, 271.75, 288.75, 305.75, 322.75, 339.75, 356.75, 373.75, 390.75, 407.75],
            "labelExpr": "['14 May 2025','15 May 08:30','16 May 01:30','16 May 17:30','19 May 10:30','20 May 03:30','20 May 19:30','21 May 12:30','22 May 05:30','22 May 21:30','23 May 14:30','26 May 07:30','27 May 03:00','27 May 19:00','28 May 12:00','29 May 05:00','29 May 21:00','30 May 14:00','2 Jun 07:00','2 Jun 23:00','3 Jun 16:00','4 Jun 09:00','5 Jun 02:00','5 Jun 18:00','6 Jun 11:00'][round((datum.value + 0.25) / 17)]",
            "ticks": true, "tickSize": 4, "tickColor": "#000000",
            "labelFont": "Liberation Sans", "labelFontSize": 18, "labelColor": "#000000",
            "labelAlign": "left", "labelBaseline": "top", "labelPadding": 2, "labelOffset": 2,
            "labelOverlap": false, "labelFlush": false, "labelBound": false
          }
        },
        "y": {"field": "o", "type": "quantitative", "scale": {"domain": [3028.75, 3502.6], "nice": false, "zero": false}, "axis": null},
        "y2": {"field": "c"},
        "fill": {"condition": {"test": "datum.c >= datum.o", "value": "#ffffff"}, "value": "#000000"}
      }
    },
    {
      "data": {"name": "levels"},
      "transform": [{"filter": "datum.name === 'bid'"}],
      "mark": {"type": "rect", "yOffset": -12.5, "y2Offset": 10, "color": "#000000"},
      "encoding": {
        "x": {"datum": 497.1, "type": "quantitative", "scale": {"domain": [-0.5, 496.85], "nice": false, "zero": false}, "axis": null},
        "x2": {"datum": 507.75},
        "y": {"field": "price", "type": "quantitative", "scale": {"domain": [3028.75, 3502.6], "nice": false, "zero": false}, "axis": null},
        "y2": {"field": "price"}
      }
    },
    {
      "data": {"name": "levels"},
      "transform": [{"filter": "datum.name === 'bid'"}],
      "mark": {"type": "text", "font": "Liberation Sans", "fontSize": 18, "align": "left", "baseline": "alphabetic", "dy": 5.5, "color": "#ffffff"},
      "encoding": {
        "x": {"datum": 498.05, "type": "quantitative", "scale": {"domain": [-0.5, 496.85], "nice": false, "zero": false}, "axis": null},
        "y": {"field": "price", "type": "quantitative", "scale": {"domain": [3028.75, 3502.6], "nice": false, "zero": false}, "axis": null},
        "text": {"field": "price", "type": "quantitative", "format": ".2f"}
      }
    },
    {
      "data": {"name": "levels"},
      "transform": [{"filter": "datum.name !== 'bid'"}],
      "mark": {"type": "rect", "yOffset": -6.5, "y2Offset": 16},
      "encoding": {
        "x": {"datum": 497.1, "type": "quantitative", "scale": {"domain": [-0.5, 496.85], "nice": false, "zero": false}, "axis": null},
        "x2": {"datum": 507.75},
        "y": {"field": "price", "type": "quantitative", "scale": {"domain": [3028.75, 3502.6], "nice": false, "zero": false}, "axis": null},
        "y2": {"field": "price"},
        "color": {"field": "name", "type": "nominal", "legend": null}
      }
    },
    {
      "data": {"name": "levels"},
      "transform": [{"filter": "datum.name !== 'bid'"}],
      "mark": {"type": "text", "font": "Liberation Sans", "fontSize": 18, "align": "left", "baseline": "alphabetic", "dy": 11.5, "color": "#ffffff"},
      "encoding": {
        "x": {"datum": 498.05, "type": "quantitative", "scale": {"domain": [-0.5, 496.85], "nice": false, "zero": false}, "axis": null},
        "y": {"field": "price", "type": "quantitative", "scale": {"domain": [3028.75, 3502.6], "nice": false, "zero": false}, "axis": null},
        "text": {"field": "price", "type": "quantitative", "format": ".2f"}
      }
    },
    {
      "data": {"name": "objects"},
      "mark": {"type": "point", "shape": "M-1,-1L1,1M-1,1L1,-1", "filled": false, "stroke": "#E8386D", "strokeWidth": 4.5, "strokeCap": "round", "size": 1764, "opacity": 1},
      "encoding": {
        "x": {"field": "t", "type": "quantitative", "scale": {"domain": [-0.5, 496.85], "nice": false, "zero": false}, "axis": null},
        "y": {"field": "price", "type": "quantitative", "scale": {"domain": [3028.75, 3502.6], "nice": false, "zero": false}, "axis": null}
      }
    }
  ],
  "config": {
    "view": {"stroke": "#000000", "strokeWidth": 1.5},
    "font": "Liberation Sans"
  }
}
